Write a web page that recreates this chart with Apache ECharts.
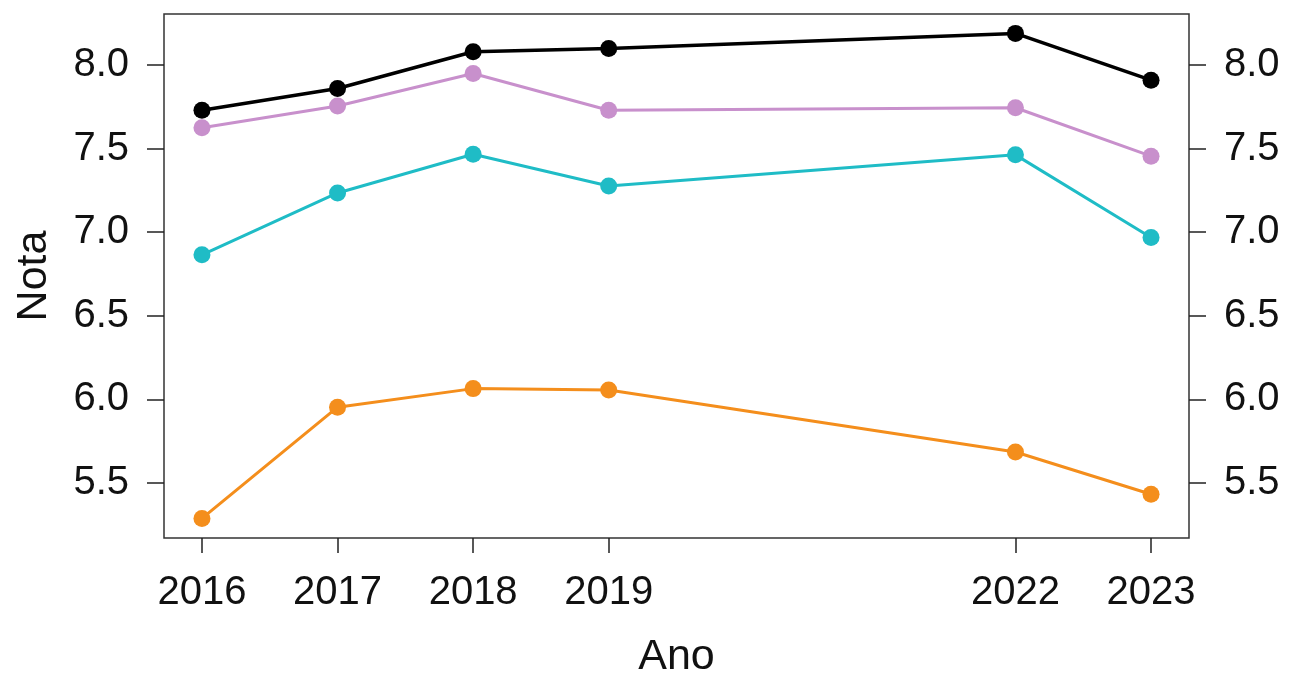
<!DOCTYPE html>
<html>
<head>
<meta charset="utf-8">
<script src="https://cdn.jsdelivr.net/npm/echarts@6/dist/echarts.min.js"></script>
<style>
html,body{margin:0;padding:0;background:#fff;}
#chart{width:1290px;height:678px;}
</style>
</head>
<body>
<div id="chart"></div>
<script>
// Data
const years = [2016, 2017, 2018, 2019, 2022, 2023];
const serieBlack  = [7.73, 7.86, 8.08, 8.10, 8.19, 7.91];
const seriePink   = [7.625, 7.755, 7.95, 7.73, 7.745, 7.455];
const serieCyan   = [6.865, 7.235, 7.467, 7.277, 7.463, 6.968];
const serieOrange = [5.287, 5.953, 6.064, 6.056, 5.685, 5.432];
const yTicks = [5.5, 6.0, 6.5, 7.0, 7.5, 8.0];
const xTitle = 'Ano';
const yTitle = 'Nota';

const pairs = vals => years.map((y, i) => [y, vals[i]]);

const FONT = 'Liberation Sans, Arial, sans-serif';
const labelStyle = {fontFamily: FONT, fontSize: 40, color: '#111'};

function mkY(pos) {
  return {
    type: 'value', position: pos, min: 5.17, max: 8.306,
    splitLine: {show: false},
    axisLine: {show: false},
    axisTick: {show: true, length: 17, customValues: yTicks, lineStyle: {color: '#222', width: 1.5}},
    axisLabel: Object.assign({margin: 35, customValues: yTicks, formatter: v => v.toFixed(1)}, labelStyle),
  };
}

const chart = echarts.init(document.getElementById('chart'), null, {renderer: 'canvas'});
const lineSeries = (data, color, width) => ({
  type: 'line', data: pairs(data), symbol: 'circle', symbolSize: 17,
  lineStyle: {color: color, width: width}, itemStyle: {color: color},
  emphasis: {disabled: true}, animation: false, z: 3
});

chart.setOption({
  animation: false,
  grid: {left: 164, right: 101, top: 14, bottom: 140, show: true, borderColor: '#333', borderWidth: 1.5,
         backgroundColor: 'transparent', containLabel: false, outerBoundsMode: 'none'},
  xAxis: {
    type: 'value', min: 2015.72, max: 2023.28,
    name: xTitle, nameLocation: 'middle', nameGap: 98,
    nameTextStyle: {fontFamily: FONT, fontSize: 43, color: '#111'},
    splitLine: {show: false},
    axisLine: {show: false},
    axisTick: {show: true, length: 15, customValues: years, lineStyle: {color: '#222', width: 1.5}},
    axisLabel: Object.assign({margin: 35, customValues: years, formatter: v => String(v)}, labelStyle),
  },
  yAxis: [
    Object.assign(mkY('left'), {name: yTitle, nameLocation: 'middle', nameGap: 108,
      nameTextStyle: {fontFamily: FONT, fontSize: 43, color: '#111'}}),
    mkY('right')
  ],
  series: [
    lineSeries(serieBlack, '#000000', 3.5),
    lineSeries(seriePink, '#C890CC', 3),
    lineSeries(serieCyan, '#1FBCC6', 3),
    lineSeries(serieOrange, '#F48E1C', 3)
  ]
});
</script>
</body>
</html>
